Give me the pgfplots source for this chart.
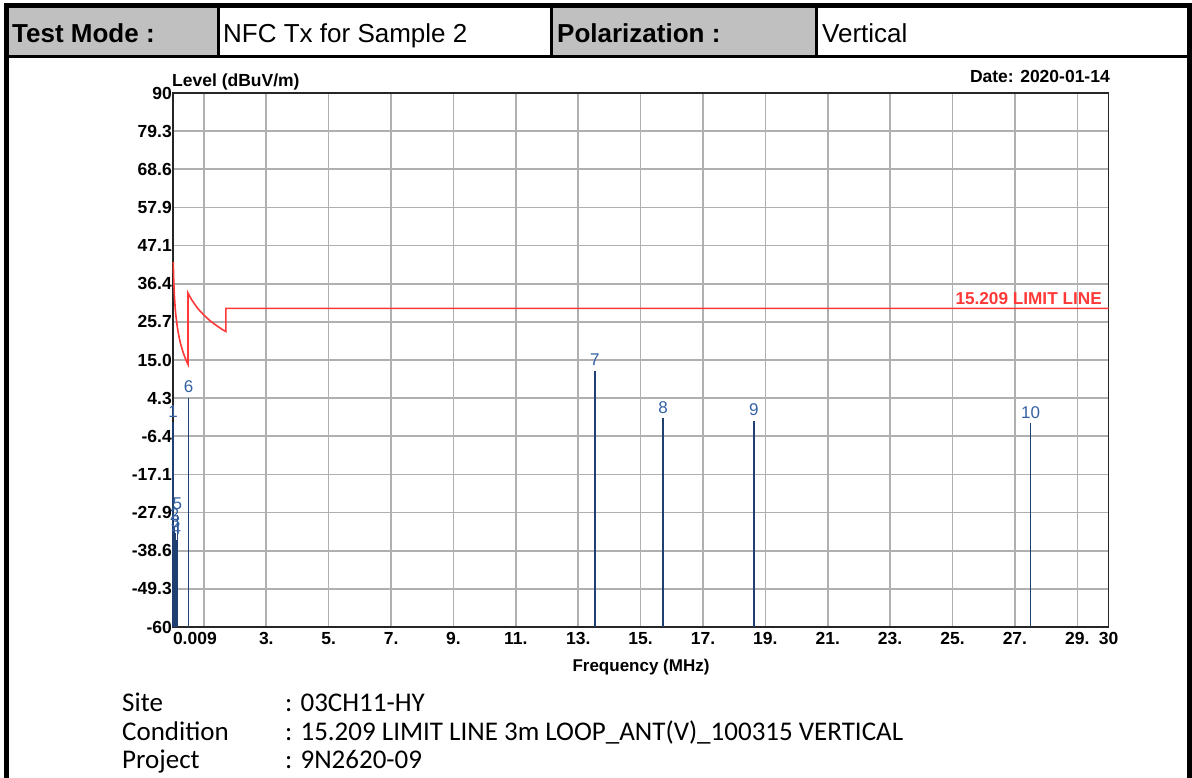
\documentclass[border=0pt]{standalone}
\usepackage{pgfplots}
\pgfplotsset{compat=1.18}
\usepackage{fontspec}
\setmainfont{Liberation Sans}
\newfontfamily\comic{Carlito}
\definecolor{limred}{HTML}{FF3838}
\definecolor{stemc}{HTML}{1F3F70}
\definecolor{mlab}{HTML}{3461A4}
\definecolor{hdrgray}{HTML}{C0C0C0}
\definecolor{gridgray}{HTML}{B0B0B0}
\begin{document}
\begin{tikzpicture}
\path[use as bounding box] (0,0) rectangle (1192pt,-778pt);
% header
\fill[hdrgray] (8pt,-7pt) rectangle (217pt,-55pt);
\fill[hdrgray] (551pt,-7pt) rectangle (816pt,-55pt);
\draw[line width=4.5pt] (6.5pt,-778pt) -- (6.5pt,-5.5pt) -- (1189.5pt,-5.5pt) -- (1189.5pt,-778pt);
\draw[line width=3pt] (6.5pt,-56.5pt) -- (1189.5pt,-56.5pt);
\foreach \xx in {218,551,816} \draw[line width=3pt] (\xx pt,-5.5pt) -- (\xx pt,-56.5pt);
\begin{scope}[every node/.style={anchor=base west, inner sep=0pt, font=\fontsize{26pt}{28pt}\selectfont}]
\node at (12pt,-43pt) {\bfseries Test Mode :};
\node at (223pt,-43pt) {NFC Tx for Sample 2};
\node at (557pt,-43pt) {\bfseries Polarization :};
\node at (822pt,-43pt) {Vertical};
\end{scope}
% chart texts
\node[anchor=base west, inner sep=0pt, font=\fontsize{17.5pt}{20pt}\selectfont\bfseries] at (172pt,-86.5pt) {Level (dBuV/m)};
\node[anchor=base east, inner sep=0pt, font=\fontsize{17.5pt}{20pt}\selectfont\bfseries] at (1110pt,-83pt) {Date: 2020-01-14};
\node[anchor=base, inner sep=0pt, font=\fontsize{17pt}{20pt}\selectfont\bfseries] at (641pt,-671pt) {Frequency (MHz)};
\begin{axis}[
  at={(173pt,-627pt)}, anchor=south west,
  scale only axis, width=935.5pt, height=534pt,
  xmin=0.009, xmax=30, ymin=-60, ymax=90,
  clip=false,
  /pgf/number format/assume math mode=true,
  xtick={1,3,...,29},
  xticklabels={,3.,5.,7.,9.,11.,13.,15.,17.,19.,21.,23.,25.,27.,29.},
  extra x ticks={0.009,30},
  extra x tick labels={\makebox[0pt][l]{0.009},30},
  extra x tick style={grid=none},
  ytick={-60,-49.2857,-38.5714,-27.8571,-17.1429,-6.4286,4.2857,15,25.7143,36.4286,47.1429,57.8571,68.5714,79.2857,90},
  yticklabels={-60,-49.3,-38.6,-27.9,-17.1,-6.4,4.3,15.0,25.7,36.4,47.1,57.9,68.6,79.3,90},
  grid=major,
  major grid style={gridgray, line width=1.6pt},
  axis line style={black!85, line width=1.8pt},
  major tick length=0pt,
  tick style={draw=none},
  tick label style={font=\fontsize{17.5pt}{20pt}\selectfont\bfseries},
  yticklabel style={inner sep=1pt},
  xticklabel style={inner sep=1pt, yshift=-4pt},
]
% 15.209 limit line
\addplot[limred, line width=1.6pt] coordinates {
(0.018,42.5)(0.03,38.1)(0.05,33.6)(0.08,29.5)(0.1,27.6)(0.15,24.1)(0.2,21.6)(0.25,19.6)(0.3,18.1)(0.35,16.7)(0.4,15.6)(0.45,14.5)(0.49,13.8)
(0.49,33.8)(0.6,32.0)(0.8,29.5)(1.0,27.6)(1.2,26.0)(1.4,24.7)(1.6,23.5)(1.705,23.0)(1.705,29.5)(30,29.5)};
% marker stems
\addplot[stemc, line width=1.6pt] coordinates {(0.009,-60)(0.009,-2.5)};
\addplot[stemc, line width=1.6pt] coordinates {(0.06,-60)(0.06,-31.5)};
\addplot[stemc, line width=1.6pt] coordinates {(0.09,-60)(0.09,-33.5)};
\addplot[stemc, line width=1.6pt] coordinates {(0.12,-60)(0.12,-35.5)};
\addplot[stemc, line width=1.6pt] coordinates {(0.15,-60)(0.15,-28.5)};
\addplot[stemc, line width=1.6pt] coordinates {(0.51,-60)(0.51,4.4)};
\addplot[stemc, line width=1.6pt] coordinates {(13.53,-60)(13.53,11.9)};
\addplot[stemc, line width=1.6pt] coordinates {(15.72,-60)(15.72,-1.4)};
\addplot[stemc, line width=1.6pt] coordinates {(18.63,-60)(18.63,-2.1)};
\addplot[stemc, line width=1.6pt] coordinates {(27.50,-60)(27.50,-2.8)};
% marker labels
\addplot[draw=none, mark=none, nodes near coords, point meta=explicit symbolic,
  every node near coord/.style={anchor=south, inner sep=0pt, yshift=5pt, text=mlab, font=\fontsize{17pt}{20pt}\selectfont}]
  coordinates {(0.009,-2.5)[1] (0.06,-31.5)[2] (0.09,-33.5)[3] (0.12,-35.5)[4] (0.15,-28.5)[5] (0.51,4.4)[6] (13.53,11.9)[7] (15.72,-1.4)[8] (18.63,-2.1)[9] (27.50,-2.8)[10]};
\node[anchor=base east, inner sep=0pt, text=limred, font=\fontsize{17.2pt}{20pt}\selectfont\bfseries] at (axis cs:29.79,29.5) [yshift=4pt] {15.209 LIMIT LINE};
\end{axis}
% bottom info
\begin{scope}[every node/.style={anchor=base west, inner sep=0pt, font=\comic\fontsize{27pt}{28pt}\selectfont}]
\node at (122pt,-711pt) {Site};
\node at (285pt,-711pt) {: 03CH11-HY};
\node at (122pt,-740pt) {Condition};
\node at (285pt,-740pt) {: 15.209 LIMIT LINE 3m LOOP\_ANT(V)\_100315 VERTICAL};
\node at (122pt,-768pt) {Project};
\node at (285pt,-768pt) {: 9N2620-09};
\end{scope}
\end{tikzpicture}
\end{document}
